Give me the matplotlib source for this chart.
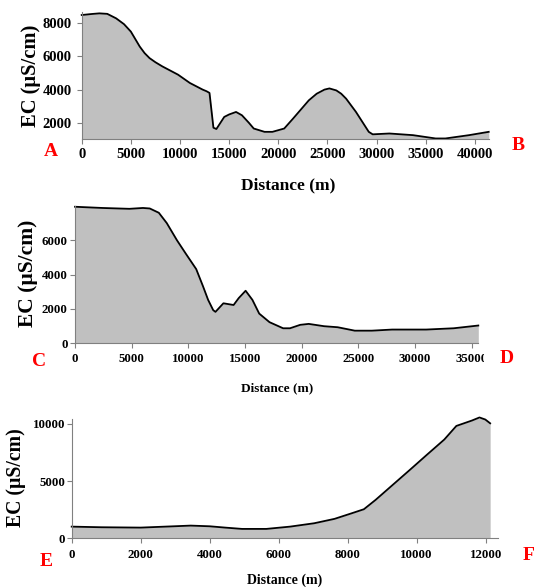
"""
三条剖面电导率 (EC) 曲线图：A-B、C-D、E-F
"""

import matplotlib
matplotlib.use("Agg")
import matplotlib.pyplot as plt
from matplotlib.transforms import Bbox, TransformedBbox

plt.rcParams["font.family"] = ["Liberation Serif", "DejaVu Serif"]
plt.rcParams["font.weight"] = "bold"

W, H = 535, 587

# ---------------- 数据 ----------------
# 剖面 A-B
dist_ab = [0, 1000, 1800, 2600, 3500, 4300, 5000, 5900, 6400, 6900, 7500,
           8200, 9800, 11000, 12300, 12700, 13000, 13400, 13700, 14500,
           15000, 15700, 16300, 17000, 17500, 18600, 19400, 20600, 21500,
           23100, 23900, 24700, 25200, 25900, 26400, 26900, 27900, 29200,
           29600, 31300, 33700, 36000, 37000, 39400, 41400]
ec_ab = [8500, 8560, 8600, 8570, 8300, 7950, 7500, 6600, 6200, 5900, 5650,
         5400, 4900, 4400, 4000, 3900, 3800, 1700, 1620, 2350,
         2500, 2650, 2450, 2000, 1650, 1450, 1450, 1650, 2250,
         3350, 3750, 4000, 4070, 3950, 3750, 3450, 2650, 1450,
         1300, 1350, 1250, 1050, 1050, 1250, 1450]

# 剖面 C-D
dist_cd = [0, 2400, 4800, 6000, 6600, 7400, 8100, 9000, 9800, 10700, 11300,
           11750, 12200, 12400, 13100, 14000, 14450, 15060, 15660, 16260,
           17170, 18370, 18980, 19880, 20630, 21990, 23190, 24700, 26200,
           28000, 31000, 33430, 35600]
ec_cd = [7950, 7880, 7830, 7880, 7850, 7600, 7000, 6000, 5200, 4320, 3320,
         2530, 1930, 1830, 2330, 2230, 2630, 3060, 2530, 1730,
         1230, 875, 875, 1075, 1130, 995, 935, 735, 735,
         800, 800, 875, 1035]

# 剖面 E-F
dist_ef = [0, 870, 2000, 2960, 3450, 4000, 4450, 4940, 5640, 6330, 7030, 7620,
           8120, 8470, 8810, 9310, 9810, 10300, 10800, 11150, 11600, 11820,
           11990, 12130]
ec_ef = [1020, 965, 935, 1050, 1110, 1050, 935, 820, 820, 1020, 1315, 1700,
         2190, 2540, 3360, 4680, 6000, 7310, 8630, 9820, 10290, 10560,
         10380, 10050]

FILL = "#c0c0c0"
SPINE = "#808080"


def rect(left, top, right, bottom):
    """像素坐标 -> figure 坐标"""
    return [left / W, 1 - bottom / H, (right - left) / W, (bottom - top) / H]


def ftext(fig, x, y, s, **kw):
    fig.text(x / W, 1 - y / H, s, ha="center", va="center", **kw)


def profile(ax, dist, ec, xlim, ylim, xticks, yticks, tick_fs, xpad, ypad):
    ax.fill_between(dist, ec, ylim[0], color=FILL, linewidth=0)
    ax.plot(dist, ec, color="black", linewidth=1.3, clip_on=False,
            solid_joinstyle="round")
    ax.set_xlim(xlim)
    ax.set_ylim(ylim)
    ax.set_xticks(xticks)
    ax.set_yticks(yticks)
    for side in ("top", "right"):
        ax.spines[side].set_visible(False)
    for side in ("left", "bottom"):
        ax.spines[side].set_color(SPINE)
        ax.spines[side].set_linewidth(0.8)
    ax.tick_params(axis="both", colors=SPINE, length=3.5, width=0.8,
                   labelcolor="black", labelsize=tick_fs)
    ax.tick_params(axis="x", pad=xpad)
    ax.tick_params(axis="y", pad=ypad)
    for lab in ax.get_xticklabels() + ax.get_yticklabels():
        lab.set_fontweight("bold")


fig = plt.figure(figsize=(W / 100, H / 100), dpi=100)

# A-B
ax1 = fig.add_axes(rect(81.7, 11.7, 488.7, 139.3))
profile(ax1, dist_ab, ec_ab, (0, 41400), (1000, 8700),
        range(0, 40001, 5000), range(2000, 8001, 2000), 10.5, 2.5, 3.5)

# C-D
ax2 = fig.add_axes(rect(75, 205.9, 478.3, 343.3))
profile(ax2, dist_cd, ec_cd, (0, 35600), (0, 8000),
        range(0, 35001, 5000), range(0, 6001, 2000), 9.3, 3.6, 1.8)

# E-F
ax3 = fig.add_axes(rect(71.7, 419.3, 498.3, 538.3))
profile(ax3, dist_ef, ec_ef, (0, 12366), (0, 10400),
        range(0, 12001, 2000), [0, 5000, 10000], 9.3, 4.0, 1.2)

# 35000 标签在原图中被截断
clip = TransformedBbox(Bbox([[0, 0], [484 / W, 1]]), fig.transFigure)
for lab in ax2.get_xticklabels():
    if lab.get_text().startswith("35000"):
        lab.set_clip_box(clip)
        lab.set_clip_on(True)

# 坐标轴标题
ftext(fig, 31, 76, "EC (µS/cm)", rotation=90, fontsize=14.8, fontweight="bold")
ftext(fig, 288, 185, "Distance (m)", fontsize=12.5, fontweight="bold")
ftext(fig, 28.2, 273.5, "EC (µS/cm)", rotation=90, fontsize=15.5, fontweight="bold")
ftext(fig, 276.7, 388.3, "Distance (m)", fontsize=9.5, fontweight="bold")
ftext(fig, 16.5, 477.5, "EC (µS/cm)", rotation=90, fontsize=14.2, fontweight="bold")
ftext(fig, 285, 580, "Distance (m)", fontsize=10, fontweight="bold")

# 剖面端点字母
for s, x, y in [("A", 51.3, 152), ("B", 518, 146), ("C", 38.7, 361),
                ("D", 506.7, 358.3), ("E", 45.8, 561.7), ("F", 529, 555.5)]:
    ftext(fig, x, y, s, fontsize=14, fontweight="bold", color="red")

fig.savefig("out.png", dpi=100)
